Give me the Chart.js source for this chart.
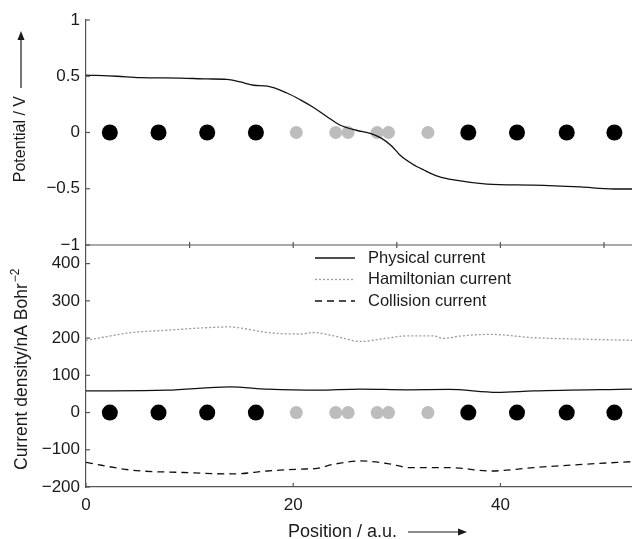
<!DOCTYPE html>
<html>
<head>
<meta charset="utf-8">
<title>Potential and current density</title>
<script src="https://cdn.jsdelivr.net/npm/chart.js@4"></script>
<style>
    body { margin: 0; background: #fff; }
    #wrap { position: relative; width: 632px; height: 539px; }
    #wrap canvas { position: absolute; left: 0; top: 0; }
</style>
</head>
<body>
<div id="wrap">
    <canvas id="potentialChart" width="632" height="539"></canvas>
    <canvas id="currentChart" width="632" height="539"></canvas>
</div>
<script>
// Atom positions along the junction (a.u.)
const leadAtomX = [2.3, 7.0, 11.7, 16.4, 36.9, 41.6, 46.4, 51.0];
const wireAtomX = [20.3, 24.1, 25.3, 28.1, 29.2, 33.0];

// Electrostatic potential (V)
const potentialX = [0, 3, 5.2, 9.1, 11.7, 13.6, 14.9, 16.2, 17.5, 19.4, 20.7, 22, 23.2, 24.5, 26.1, 27.5, 28.5, 29.5, 30.3, 31.5, 32.6, 34, 35.5, 38.7, 43.2, 47.7, 50.9, 52.7];
const potentialV = [0.51, 0.5, 0.487, 0.484, 0.476, 0.473, 0.449, 0.42, 0.413, 0.351, 0.29, 0.22, 0.145, 0.067, 0.02, -0.01, -0.05, -0.12, -0.2, -0.28, -0.333, -0.39, -0.422, -0.458, -0.467, -0.484, -0.502, -0.502];

// Current densities (nA Bohr^-2)
const physicalX = [0, 7.8, 13.9, 17.5, 22.3, 26.5, 31, 35, 39.7, 43.2, 52.7];
const physicalJ = [58, 60, 69, 63, 60, 63, 61, 62, 54, 58, 63];
const hamiltonianX = [0, 4.5, 7.8, 11, 13.9, 14.9, 17.5, 20.7, 21.9, 23.9, 26.5, 29.1, 31, 33.5, 34.5, 36, 39, 43.2, 48, 52.7];
const hamiltonianJ = [194, 215, 221, 227, 230, 227, 215, 211, 215, 206, 191, 200, 206, 206, 199, 205, 210, 201, 197, 194];
const collisionX = [0, 4.5, 9.4, 14.2, 17.5, 20.7, 22.3, 23.9, 26.5, 29.1, 31.3, 35.2, 39, 43.2, 48, 52.7];
const collisionJ = [-134, -155, -161, -165, -157, -152, -150, -139, -130, -137, -148, -148, -157, -148, -139, -132];

// Axis ticks
const xMax = 52.7;
const potentialTicks = [-1, -0.5, 0, 0.5, 1];
const currentTicks = [-200, -100, 0, 100, 200, 300, 400];
const currentMax = 450;
const positionTicks = [0, 20, 40];
const panelTicks = [10, 20, 30, 40, 50];

const FONT = '"Liberation Sans", Arial, sans-serif';
const AXIS_COLOR = '#555';
const TEXT_COLOR = '#1a1a1a';

function points(xs, ys) {
    return xs.map((x, i) => ({ x: x, y: ys[i] }));
}

function formatTick(value) {
    return String(value).replace('-', '\u2212');
}

function atomDatasets() {
    return [
        {
            label: 'Lead atoms',
            data: leadAtomX.map(x => ({ x: x, y: 0 })),
            showLine: false,
            pointRadius: 8,
            pointBackgroundColor: '#000',
            pointBorderWidth: 0,
            order: 2
        },
        {
            label: 'Wire atoms',
            data: wireAtomX.map(x => ({ x: x, y: 0 })),
            showLine: false,
            pointRadius: 6.5,
            pointBackgroundColor: '#bdbdbd',
            pointBorderWidth: 0,
            order: 2
        }
    ];
}

function lineDataset(label, xs, ys, color, dash) {
    return {
        label: label,
        data: points(xs, ys),
        showLine: true,
        borderColor: color,
        borderWidth: 1.3,
        borderDash: dash,
        pointRadius: 0,
        cubicInterpolationMode: 'monotone',
        order: 1
    };
}

function drawArrow(ctx, x1, y1, x2, y2) {
    const a = Math.atan2(y2 - y1, x2 - x1);
    const c = Math.cos(a), s = Math.sin(a);
    ctx.beginPath();
    ctx.moveTo(x1, y1);
    ctx.lineTo(x2 - 6 * c, y2 - 6 * s);
    ctx.stroke();
    ctx.beginPath();
    ctx.moveTo(x2, y2);
    ctx.lineTo(x2 - 9 * c + 3.5 * s, y2 - 9 * s - 3.5 * c);
    ctx.lineTo(x2 - 9 * c - 3.5 * s, y2 - 9 * s + 3.5 * c);
    ctx.closePath();
    ctx.fill();
}

// inward tick marks on the left axis
function drawYTicks(chart, values) {
    const { ctx, chartArea, scales } = chart;
    values.forEach(v => {
        const py = scales.y.getPixelForValue(v);
        ctx.beginPath();
        ctx.moveTo(chartArea.left, py);
        ctx.lineTo(chartArea.left + 4, py);
        ctx.stroke();
    });
}

const potentialDecor = {
    id: 'potentialDecor',
    afterDraw(chart) {
        const { ctx, chartArea: area, scales } = chart;
        ctx.save();
        ctx.strokeStyle = AXIS_COLOR;
        ctx.fillStyle = TEXT_COLOR;
        ctx.lineWidth = 1.2;

        // frame line shared with the lower panel
        ctx.beginPath();
        ctx.moveTo(area.left, area.bottom);
        ctx.lineTo(area.right, area.bottom);
        ctx.stroke();
        panelTicks.forEach(v => {
            const px = scales.x.getPixelForValue(v);
            ctx.beginPath();
            ctx.moveTo(px, area.bottom - 3);
            ctx.lineTo(px, area.bottom + 3);
            ctx.stroke();
        });
        drawYTicks(chart, potentialTicks);

        // axis title with arrow
        ctx.strokeStyle = TEXT_COLOR;
        drawArrow(ctx, 21, 88, 21, 31);
        ctx.translate(21, 96);
        ctx.rotate(-Math.PI / 2);
        ctx.font = '16px ' + FONT;
        ctx.textAlign = 'right';
        ctx.textBaseline = 'middle';
        ctx.fillText('Potential / V', 0, 0);
        ctx.restore();
    }
};

const currentDecor = {
    id: 'currentDecor',
    afterDraw(chart) {
        const { ctx, chartArea: area, scales } = chart;
        ctx.save();
        ctx.strokeStyle = AXIS_COLOR;
        ctx.fillStyle = TEXT_COLOR;
        ctx.lineWidth = 1.2;

        drawYTicks(chart, currentTicks);
        positionTicks.forEach(v => {
            const px = scales.x.getPixelForValue(v);
            ctx.beginPath();
            ctx.moveTo(px, area.bottom);
            ctx.lineTo(px, area.bottom - 4);
            ctx.stroke();
        });

        // legend inside the panel
        ctx.font = '16.5px ' + FONT;
        ctx.textAlign = 'left';
        ctx.textBaseline = 'middle';
        const legendSets = chart.data.datasets.filter(d => d.showLine);
        legendSets.forEach((d, i) => {
            const ly = 258 + i * 21.5;
            ctx.save();
            ctx.strokeStyle = d.borderColor;
            ctx.lineWidth = d.borderWidth;
            ctx.setLineDash(d.borderDash || []);
            ctx.beginPath();
            ctx.moveTo(315, ly);
            ctx.lineTo(355, ly);
            ctx.stroke();
            ctx.restore();
            ctx.fillText(d.label, 368, ly);
        });

        // x axis title with arrow
        ctx.font = '18px ' + FONT;
        ctx.fillText('Position / a.u.', 288, 532);
        ctx.strokeStyle = TEXT_COLOR;
        drawArrow(ctx, 408, 532, 467, 532);

        // y axis title with superscript
        ctx.font = '17.5px ' + FONT;
        ctx.translate(22, 470);
        ctx.rotate(-Math.PI / 2);
        const mainText = 'Current density/nA Bohr';
        ctx.fillText(mainText, 0, 0);
        const w = ctx.measureText(mainText).width;
        ctx.font = '12px ' + FONT;
        ctx.fillText('\u22122', w + 1, -6);
        ctx.restore();
    }
};

const tickFont = { family: FONT, size: 17 };

new Chart(document.getElementById('potentialChart'), {
    type: 'scatter',
    data: {
        datasets: [
            lineDataset('Potential', potentialX, potentialV, '#111', [])
        ].concat(atomDatasets())
    },
    options: {
        responsive: false,
        animation: false,
        events: [],
        layout: { autoPadding: false, padding: { top: 20, bottom: 294, left: 0, right: 0 } },
        plugins: { legend: { display: false }, tooltip: { enabled: false } },
        scales: {
            x: { type: 'linear', display: false, min: 0, max: xMax },
            y: {
                type: 'linear',
                min: -1,
                max: 1,
                afterFit: scale => { scale.width = 86; },
                afterBuildTicks: scale => { scale.ticks = potentialTicks.map(v => ({ value: v })); },
                grid: { display: false, drawTicks: false },
                border: { display: true, color: AXIS_COLOR, width: 1.2 },
                ticks: { color: TEXT_COLOR, font: tickFont, padding: 6, callback: formatTick }
            }
        }
    },
    plugins: [potentialDecor]
});

new Chart(document.getElementById('currentChart'), {
    type: 'scatter',
    data: {
        datasets: [
            lineDataset('Physical current', physicalX, physicalJ, '#111', []),
            lineDataset('Hamiltonian current', hamiltonianX, hamiltonianJ, '#9a9a9a', [2, 2]),
            lineDataset('Collision current', collisionX, collisionJ, '#111', [7, 5])
        ].concat(atomDatasets())
    },
    options: {
        responsive: false,
        animation: false,
        events: [],
        layout: { autoPadding: false, padding: { top: 245, bottom: 0, left: 0, right: 0 } },
        plugins: { legend: { display: false }, tooltip: { enabled: false } },
        scales: {
            x: {
                type: 'linear',
                min: 0,
                max: xMax,
                afterFit: scale => { scale.height = 52; },
                afterBuildTicks: scale => { scale.ticks = positionTicks.map(v => ({ value: v })); },
                grid: { display: false, drawTicks: false },
                border: { display: true, color: AXIS_COLOR, width: 1.2 },
                ticks: { color: TEXT_COLOR, font: tickFont, padding: 8, maxRotation: 0 }
            },
            y: {
                type: 'linear',
                min: -200,
                max: currentMax,
                afterFit: scale => { scale.width = 86; },
                afterBuildTicks: scale => { scale.ticks = currentTicks.map(v => ({ value: v })); },
                grid: { display: false, drawTicks: false },
                border: { display: true, color: AXIS_COLOR, width: 1.2 },
                ticks: { color: TEXT_COLOR, font: tickFont, padding: 6, callback: formatTick }
            }
        }
    },
    plugins: [currentDecor]
});
</script>
</body>
</html>
